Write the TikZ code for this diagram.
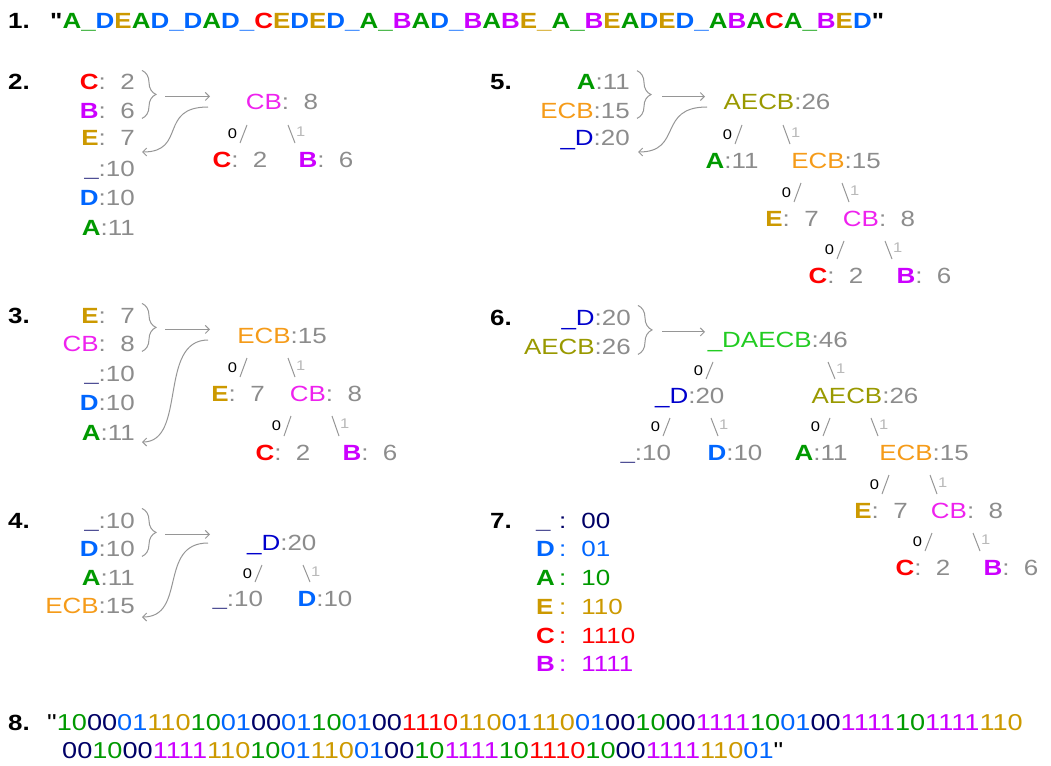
\documentclass[tikz,border=0pt]{standalone}
\usepackage{fontspec}
\setmainfont{Liberation Sans}[FakeStretch=1.18,Ligatures=TeXOff]
\usetikzlibrary{calc,arrows.meta,decorations.pathreplacing}

\definecolor{cA}{RGB}{0,153,0}
\definecolor{cS}{RGB}{0,0,102}
\definecolor{cD}{RGB}{0,102,255}
\definecolor{cE}{RGB}{204,153,0}
\definecolor{cC}{RGB}{255,0,0}
\definecolor{cB}{RGB}{204,0,255}
\definecolor{cCB}{RGB}{238,34,238}
\definecolor{cECB}{RGB}{245,155,25}
\definecolor{cAECB}{RGB}{153,153,0}
\definecolor{cSD}{RGB}{0,0,204}
\definecolor{cAll}{RGB}{34,204,34}
\definecolor{numgray}{RGB}{140,140,140}
\definecolor{onegray}{RGB}{185,185,185}
\definecolor{linegray}{RGB}{150,150,150}

% symbols
\newcommand\hA{\textcolor{cA}{\bfseries A}}
\newcommand\hB{\textcolor{cB}{\bfseries B}}
\newcommand\hC{\textcolor{cC}{\bfseries C}}
\newcommand\hD{\textcolor{cD}{\bfseries D}}
\newcommand\hE{\textcolor{cE}{\bfseries E}}
\newcommand\hS{\textcolor{cS}{\bfseries\_}}
\newcommand\hU[1]{\textcolor{#1}{\bfseries\_}}
\newcommand\hCB{\textcolor{cCB}{CB}}
\newcommand\hECB{\textcolor{cECB}{ECB}}
\newcommand\hAECB{\textcolor{cAECB}{AECB}}
\newcommand\hSD{\textcolor{cSD}{\_D}}
\newcommand\fs{\phantom{0}}
\newcommand\qt{\symbol{34}}
% codes
\newcommand\kA{\textcolor{cA}{10}}
\newcommand\kS{\textcolor{cS}{00}}
\newcommand\kD{\textcolor{cD}{01}}
\newcommand\kE{\textcolor{cE}{110}}
\newcommand\kC{\textcolor{cC}{1110}}
\newcommand\kB{\textcolor{cB}{1111}}
% 0 and 1 branches below a parent
\newcommand\kids[5]{%
  \draw[branch] ($(#1.base)+(#5-35-#4,15)$) -- ($(#1.base |- #2.base)+(#5-42-#4,-24)$)
    node[midway,left=6pt,zlab] {0};
  \draw[branch] ($(#1.base)+(#5+6+#4,15)$) -- ($(#1.base |- #3.base)+(#5+13+#4,-24)$)
    node[midway,right=4pt,yshift=2pt,olab] {1};}

\begin{document}
\begin{tikzpicture}[x=1pt,y=-1pt,font=\fontsize{22}{26}\selectfont,
  >={Straight Barb[length=4pt,width=8pt]},
  stepno/.style={anchor=base west,inner sep=0pt,font=\fontsize{22}{26}\selectfont\bfseries},
  entry/.style={anchor=base east,inner sep=0pt,text=numgray},
  tnode/.style={anchor=base,inner sep=0pt,text=numgray},
  codeline/.style={anchor=base west,inner sep=0pt},
  branch/.style={draw=linegray,line width=1pt},
  zlab/.style={inner sep=0pt,text=black,font=\fontsize{14}{14}\selectfont},
  olab/.style={inner sep=0pt,text=onegray,font=\fontsize{14}{14}\selectfont},
  brc/.style={draw=linegray,line width=1pt,decorate,decoration={brace,amplitude=14pt}},
  arr/.style={draw=linegray,line width=1pt,->}]
\useasboundingbox (0,0) rectangle (1051,765);

% 1. the message
\node[stepno] (n1) at (8,29) {1.};
\node[stepno] (msg) at (50,29) {\qt\hA\hU{cA}\hD\hE\hA\hD\hU{cD}\hD\hA\hD\hU{cD}\hC\hE\hD\hE\hD\hU{cD}\hA\hU{cA}\hB\hA\hD\hU{cD}\hB\hA\hB\hE\hU{cE}\hA\hU{cA}\hB\hE\hA\hD\hE\hD\hU{cD}\hA\hB\hA\hC\hA\hU{cA}\hB\hE\hD\qt};

% 2.
\node[stepno] (n2) at (8,90) {2.};
\node[entry] (l2c) at (135,90) {\hC:\fs2};
\node[entry] (l2b) at (135,118) {\hB:\fs6};
\node[entry] (l2e) at (135,146) {\hE:\fs7};
\node[entry] (l2s) at (135,176) {\hS:10};
\node[entry] (l2d) at (135,205) {\hD:10};
\node[entry] (l2a) at (135,235) {\hA:11};
\draw[brc] ([xshift=7pt,yshift=4pt]l2c.north east) -- ([xshift=7pt]l2b.south east);
\coordinate (s2m) at ($(l2c.north east)!.5!(l2b.south east)$);
\draw[arr] ([xshift=30pt]s2m) -- ([xshift=75pt]s2m);
\coordinate (s2o) at (208,107);
\coordinate (s2r) at (142,152);
\draw[arr] (s2o) .. controls +(-50,0) and +(45,0) .. (s2r);
\node[tnode] (t2r) at (282,110) {\hCB:\fs8};
\node[tnode] (t2c) at (240,167) {\hC:\fs2};
\node[tnode] (t2b) at (326,167) {\hB:\fs6};
\kids{t2r}{t2c}{t2b}{0}{0}

% 3.
\node[stepno] (n3) at (8,323) {3.};
\node[entry] (l3e) at (135,323) {\hE:\fs7};
\node[entry] (l3cb) at (135,351) {\hCB:\fs8};
\node[entry] (l3s) at (135,381) {\hS:10};
\node[entry] (l3d) at (135,410) {\hD:10};
\node[entry] (l3a) at (135,440) {\hA:11};
\draw[brc] ([xshift=7pt,yshift=4pt]l3e.north east) -- ([xshift=7pt]l3cb.south east);
\coordinate (s3m) at ($(l3e.north east)!.5!(l3cb.south east)$);
\draw[arr] ([xshift=30pt]s3m) -- ([xshift=75pt]s3m);
\coordinate (s3o) at (208,340);
\coordinate (s3r) at (142,442);
\draw[arr] (s3o) .. controls +(-50,0) and +(45,0) .. (s3r);
\node[tnode] (t3r) at (282,343) {\hECB:15};
\node[tnode] (t3e) at (238,401) {\hE:\fs7};
\node[tnode] (t3cb) at (326,401) {\hCB:\fs8};
\node[tnode] (t3c) at (283,460) {\hC:\fs2};
\node[tnode] (t3b) at (370,460) {\hB:\fs6};
\kids{t3r}{t3e}{t3cb}{0}{0}
\kids{t3cb}{t3c}{t3b}{0}{0}

% 4.
\node[stepno] (n4) at (8,528) {4.};
\node[entry] (l4s) at (135,528) {\hS:10};
\node[entry] (l4d) at (135,556) {\hD:10};
\node[entry] (l4a) at (135,585) {\hA:11};
\node[entry] (l4ecb) at (135,613) {\hECB:15};
\draw[brc] ([xshift=7pt,yshift=4pt]l4s.north east) -- ([xshift=7pt]l4d.south east);
\coordinate (s4m) at ($(l4s.north east)!.5!(l4d.south east)$);
\draw[arr] ([xshift=30pt]s4m) -- ([xshift=75pt]s4m);
\coordinate (s4o) at (208,543);
\coordinate (s4r) at (142,617);
\draw[arr] (s4o) .. controls +(-50,0) and +(45,0) .. (s4r);
\node[tnode] (t4r) at (289,550) {\llap{\textcolor{cSD}{\_}}\textcolor{cSD}{D}:20};
\node[tnode] (t4s) at (245,606) {\llap{\hS}:10};
\node[tnode] (t4d) at (325,606) {\hD:10};
\kids{t4r}{t4s}{t4d}{0}{8}

% 5.
\node[stepno] (n5) at (490,90) {5.};
\node[entry] (l5a) at (630,90) {\hA:11};
\node[entry] (l5ecb) at (630,118) {\hECB:15};
\node[entry] (l5sd) at (630,146) {\hSD:20};
\draw[brc] ([xshift=7pt,yshift=4pt]l5a.north east) -- ([xshift=7pt]l5ecb.south east);
\coordinate (s5m) at ($(l5a.north east)!.5!(l5ecb.south east)$);
\draw[arr] ([xshift=32pt]s5m) -- ([xshift=75pt]s5m);
\coordinate (s5o) at (707,107);
\coordinate (s5r) at (638,152);
\draw[arr] (s5o) .. controls +(-50,0) and +(45,0) .. (s5r);
\node[tnode] (t5r) at (777,110) {\hAECB:26};
\node[tnode] (t5a) at (732,168) {\hA:11};
\node[tnode] (t5ecb) at (836,168) {\hECB:15};
\node[tnode] (t5e) at (792,226) {\hE:\fs7};
\node[tnode] (t5cb) at (879,226) {\hCB:\fs8};
\node[tnode] (t5c) at (836,283) {\hC:\fs2};
\node[tnode] (t5b) at (924,283) {\hB:\fs6};
\kids{t5r}{t5a}{t5ecb}{0}{0}
\kids{t5ecb}{t5e}{t5cb}{0}{0}
\kids{t5cb}{t5c}{t5b}{0}{0}

% 6.
\node[stepno] (n6) at (490,325) {6.};
\node[entry] (l6sd) at (631,325) {\hSD:20};
\node[entry] (l6aecb) at (631,354) {\hAECB:26};
\draw[brc] ([xshift=7pt,yshift=4pt]l6sd.north east) -- ([xshift=7pt]l6aecb.south east);
\coordinate (s6m) at ($(l6sd.north east)!.5!(l6aecb.south east)$);
\draw[arr] ([xshift=31pt]s6m) -- ([xshift=74pt]s6m);
\node[tnode] (t6r) at (785,347) {\llap{\textcolor{cAll}{\_}}\textcolor{cAll}{DAECB}:46};
\node[tnode] (t6sd) at (697,403) {\llap{\textcolor{cSD}{\_}}\textcolor{cSD}{D}:20};
\node[tnode] (t6aecb) at (865,403) {\hAECB:26};
\node[tnode] (t6s) at (653,460) {\llap{\hS}:10};
\node[tnode] (t6d) at (735,460) {\hD:10};
\node[tnode] (t6a) at (821,460) {\hA:11};
\node[tnode] (t6ecb) at (924,460) {\hECB:15};
\node[tnode] (t6e) at (881,518) {\hE:\fs7};
\node[tnode] (t6cb) at (967,518) {\hCB:\fs8};
\node[tnode] (t6c) at (923,575) {\hC:\fs2};
\node[tnode] (t6b) at (1011,575) {\hB:\fs6};
\kids{t6r}{t6sd}{t6aecb}{37}{0}
\kids{t6sd}{t6s}{t6d}{0}{8}
\kids{t6aecb}{t6a}{t6ecb}{0}{0}
\kids{t6ecb}{t6e}{t6cb}{0}{0}
\kids{t6cb}{t6c}{t6b}{0}{0}

% 7. the code table
\node[stepno] (n7) at (490,528) {7.};
\node[codeline,text=cS] (k1) at (536,528) {\makebox[23pt][l]{\bfseries\_}:\hspace{15pt}00};
\node[codeline,text=cD] (k2) at (536,556) {\makebox[23pt][l]{\bfseries D}:\hspace{15pt}01};
\node[codeline,text=cA] (k3) at (536,585) {\makebox[23pt][l]{\bfseries A}:\hspace{15pt}10};
\node[codeline,text=cE] (k4) at (536,614) {\makebox[23pt][l]{\bfseries E}:\hspace{15pt}110};
\node[codeline,text=cC] (k5) at (536,643) {\makebox[23pt][l]{\bfseries C}:\hspace{15pt}1110};
\node[codeline,text=cB] (k6) at (536,671) {\makebox[23pt][l]{\bfseries B}:\hspace{15pt}1111};

% 8. the encoded message
\node[stepno] (n8) at (8,730) {8.};
\node[codeline,font=\fontsize{23}{27}\selectfont] (bits1) at (47,730) {\qt\kA\kS\kD\kE\kA\kD\kS\kD\kA\kD\kS\kC\kE\kD\kE\kD\kS\kA\kS\kB\kA\kD\kS\kB\kA\kB\kE};
\node[codeline,font=\fontsize{23}{27}\selectfont] (bits2) at (62,758) {\kS\kA\kS\kB\kE\kA\kD\kE\kD\kS\kA\kB\kA\kC\kA\kS\kB\kE\kD\qt};
\end{tikzpicture}
\end{document}
